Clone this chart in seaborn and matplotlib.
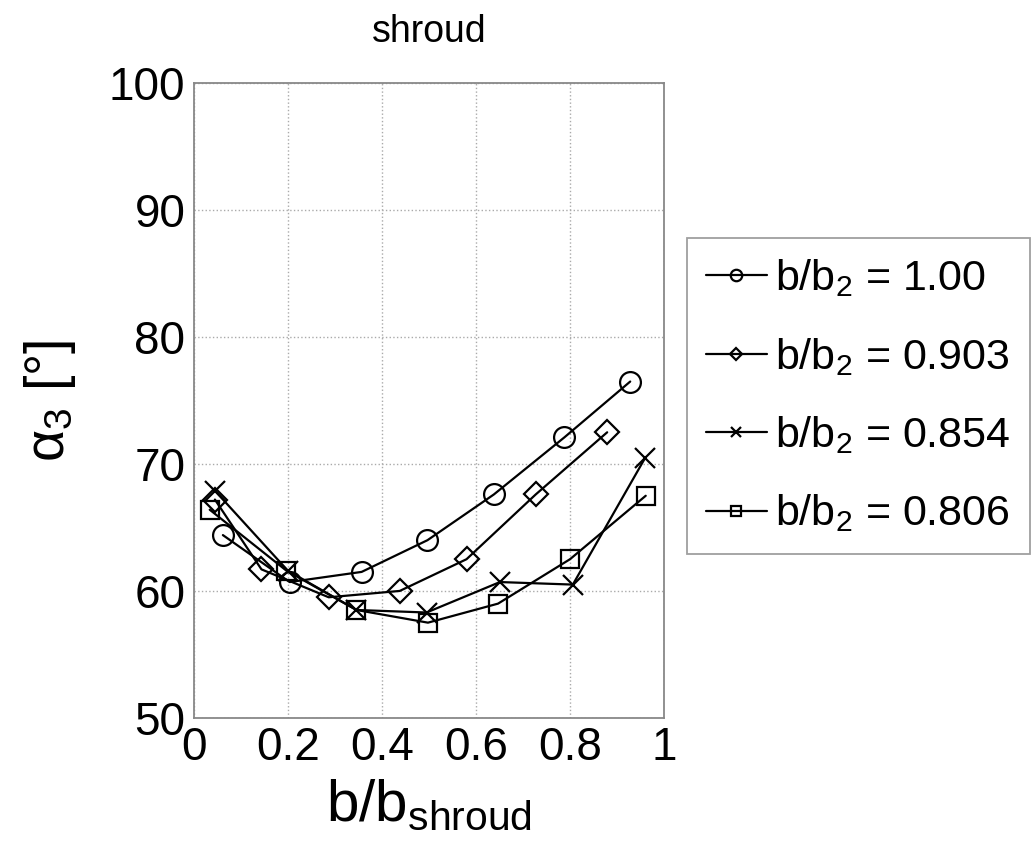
import numpy as np
import pandas as pd
import matplotlib
matplotlib.use("Agg")
import matplotlib.pyplot as plt
import seaborn as sns

sns.set_theme(style="white")
plt.rcParams['font.family'] = ['Liberation Sans', 'DejaVu Sans']
plt.rcParams['mathtext.default'] = 'regular'
plt.rcParams['text.color'] = 'black'
plt.rcParams['axes.labelcolor'] = 'black'

# data
series = ['b/b$_2$ = 1.00', 'b/b$_2$ = 0.903', 'b/b$_2$ = 0.854', 'b/b$_2$ = 0.806']
x_100 = [0.062, 0.204, 0.357, 0.497, 0.638, 0.788, 0.928]
y_100 = [64.4, 60.7, 61.5, 64.0, 67.6, 72.1, 76.5]
x_903 = [0.045, 0.144, 0.287, 0.438, 0.580, 0.727, 0.879]
y_903 = [67.2, 61.7, 59.5, 60.0, 62.5, 67.6, 72.5]
x_854 = [0.045, 0.200, 0.346, 0.495, 0.651, 0.806, 0.960]
y_854 = [67.9, 61.6, 58.5, 58.3, 60.7, 60.5, 70.5]
x_806 = [0.034, 0.197, 0.346, 0.498, 0.647, 0.800, 0.961]
y_806 = [66.4, 61.6, 58.5, 57.5, 59.0, 62.5, 67.5]
markers = ['o', 'D', 'x', 's']
msizes = [15, 12, 14, 13]

fig = plt.figure(figsize=(10.36, 8.68), dpi=100)
ax = fig.add_axes([0.187, 0.173, 0.454, 0.731])

for name, xs, ys, m, ms in zip(series, [x_100, x_903, x_854, x_806],
                                [y_100, y_903, y_854, y_806], markers, msizes):
    d = pd.DataFrame({'x': xs, 'y': ys})
    sns.lineplot(data=d, x='x', y='y', marker=m, color='black', linewidth=1.6,
                 markersize=ms, markerfacecolor='none', markeredgecolor='black',
                 markeredgewidth=1.6, label=name, legend=False, ax=ax,
                 estimator=None, sort=False)

ax.set_xlim(0, 1)
ax.set_ylim(50, 100)
ax.set_xticks([0, 0.2, 0.4, 0.6, 0.8, 1])
ax.set_xticklabels(['0', '0.2', '0.4', '0.6', '0.8', '1'])
ax.set_yticks([50, 60, 70, 80, 90, 100])
ax.tick_params(labelsize=33, direction='in', length=5, color='#888888',
               labelcolor='black')
ax.tick_params(axis='y', pad=6)
ax.tick_params(axis='x', pad=6)
ax.grid(True, linestyle=':', color='#aaaaaa', linewidth=1)
for s in ax.spines.values():
    s.set_color('#888888')
    s.set_linewidth(1.3)

ax.set_xlabel('b/b$_{shroud}$', fontsize=42, labelpad=6)
ax.set_ylabel('α$_3$ [°]', fontsize=40, labelpad=22)
ax.set_title('shroud', fontsize=27, pad=30)

leg = ax.legend(ax.lines, series, loc='upper left', bbox_to_anchor=(0.663, 0.726),
                bbox_transform=fig.transFigure, fontsize=31, markerscale=0.55,
                handlelength=1.4, handletextpad=0.2, labelspacing=0.85,
                borderaxespad=0, borderpad=0.45, frameon=True, fancybox=False)
leg.get_frame().set_edgecolor('#888888')
leg.get_frame().set_linewidth(1.3)

fig.savefig('out.png', dpi=100)
